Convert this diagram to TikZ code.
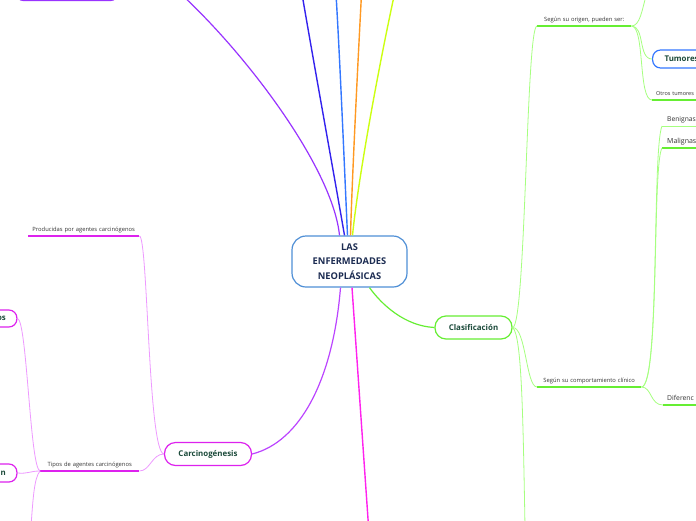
\documentclass[tikz,border=0pt]{standalone}
\usepackage{fontspec}
\setmainfont{Open Sans}
\definecolor{cblue}{HTML}{4F8FD6}
\definecolor{cnavy}{HTML}{1C2C52}
\definecolor{ttext}{HTML}{1B4A3A}
\definecolor{gmain}{HTML}{66EE33}
\definecolor{glight}{HTML}{A6FF80}
\definecolor{vmain}{HTML}{BB44FF}
\definecolor{cpurple}{HTML}{9933FF}
\definecolor{cdblue}{HTML}{3322EE}
\definecolor{cmblue}{HTML}{3377FF}
\definecolor{corange}{HTML}{FF9922}
\definecolor{cyellow}{HTML}{CCFF11}
\definecolor{cmag}{HTML}{FF22EE}
\definecolor{mbox}{HTML}{DD22EE}
\definecolor{plight}{HTML}{EE99FF}
\definecolor{subtxt}{HTML}{333333}
\tikzset{
  topic/.style={draw, fill=white, rounded corners=#1, line width=1.2pt, text=ttext,
     font=\fontsize{7.9}{9}\selectfont\bfseries, inner sep=0pt},
  subtopic/.style={inner xsep=4pt, inner ysep=2.6pt, text depth=1.5pt, text=subtxt,
     font=\fontsize{5.8}{7}\selectfont, anchor=south west},
  under/.style={append after command={(\tikzlastnode.south west) edge[#1] (\tikzlastnode.south east)}},
  gthick/.style={draw=gmain, line width=1.4pt},
  gthin/.style={draw=glight, line width=0.9pt},
  pthick/.style={draw=mbox, line width=1.4pt},
  gconn/.style={draw=glight, line width=0.8pt},
  pconn/.style={draw=plight, line width=0.8pt},
}
\begin{document}
\begin{tikzpicture}[x=1pt,y=-1pt]
\useasboundingbox (0,0) rectangle (696,520);
\clip (0,0) rectangle (696,520);
\fill[white] (0,0) rectangle (696,520);

% central topic
\node[draw=cblue, fill=white, line width=1.2pt, rounded corners=14pt, text=cnavy,
      minimum width=115pt, minimum height=51pt, align=center, inner sep=0pt,
      font=\fontsize{9.3}{14.2}\selectfont\bfseries] (c) at (349.5,261.5)
      {LAS\\ENFERMEDADES\\NEOPLÁSICAS};

% off-canvas ends of main branches
\coordinate (tpurple) at (181,-6);
\coordinate (tdblue) at (302,-6);
\coordinate (tmblue) at (336,-6);
\coordinate (torange) at (361.5,-6);
\coordinate (tyellow) at (394.5,-6);
\coordinate (bmag) at (368.5,526);

% top-left purple topic (only bottom edge visible)
\node[draw=cpurple, line width=1.4pt, rounded corners=6pt, minimum width=100pt,
      minimum height=20pt, anchor=south] (tl) at (67,1) {};

\draw[cpurple, line width=1.2pt] ([xshift=-10pt]c.north) .. controls (333,170) and (250,58) .. (tpurple);
\draw[cdblue, line width=1.4pt] ([xshift=-5pt]c.north) .. controls (335,180) and (315,70) .. (tdblue);
\draw[cmblue, line width=1.4pt] ([xshift=-2pt]c.north) .. controls (345,180) and (340,60) .. (tmblue);
\draw[corange, line width=1.4pt] ([xshift=1pt]c.north) .. controls (352,180) and (358,60) .. (torange);
\draw[cyellow, line width=1.4pt] ([xshift=3pt]c.north) .. controls (358,180) and (378,70) .. (tyellow);
\draw[cmag, line width=1.4pt] ([xshift=2.5pt]c.south) -- (bmag);

% Clasificación
\node[topic=11pt, draw=gmain, minimum width=77pt, minimum height=23pt] (clas) at (473.5,327.5) {Clasificación};
\draw[gmain, line width=1.2pt] ([xshift=20pt]c.south) .. controls (382,305) and (405,326) .. (clas.west);

\node[subtopic, text width=86pt, align=center, under=gthick] (origen) at (537,26) {Según su origen, pueden ser:};
\node[subtopic, text width=96pt, align=center, under=gthick] (comp) at (537,387) {Según su comportamiento clínico};
\coordinate (cbot) at (525,526);

\draw[gconn] (clas.east) .. controls (526,327) and (526,26) .. (origen.south west);
\draw[gconn] (clas.east) .. controls (526,327) and (526,387) .. (comp.south west);
\draw[gconn] (clas.east) .. controls (522,335) and (523,420) .. (cbot);

% children of "Según su origen"
\coordinate (otop) at (646,-4);
\node[topic=8pt, draw=cmblue, minimum height=18pt, text width=70pt, align=left,
      inner xsep=12pt, anchor=west] (tum) at (652,59) {Tumores};
\node[subtopic, text width=90pt, inner xsep=4pt, align=left, under=gthick,
      font=\fontsize{5.5}{7}\selectfont] (otros) at (652,100) {Otros tumores s};
\draw[gconn] (origen.south east) .. controls (640,26) and (642,10) .. (otop);
\draw[gconn] (origen.south east) .. controls (645,26) and (638,59) .. (tum.west);
\draw[gconn] (origen.south east) .. controls (645,26) and (638,100) .. (otros.south west);

% children of "Según su comportamiento clínico"
\node[subtopic, text width=60pt, inner xsep=5pt, align=left, under=gthin,
      font=\fontsize{6.7}{8}\selectfont] (ben) at (662,126) {Benignas};
\node[subtopic, text width=60pt, inner xsep=5pt, align=left, under=gthick,
      font=\fontsize{7}{8}\selectfont] (mal) at (662,148) {Malignas};
\node[subtopic, text width=60pt, inner xsep=4pt, align=left, under=gthick,
      font=\fontsize{6.8}{8}\selectfont] (dif) at (663,405) {Diferenc};
\draw[gconn] (comp.south east) .. controls (660,387) and (652,150) .. (ben.south west);
\draw[gconn] (comp.south east) .. controls (660,387) and (652,165) .. (mal.south west);
\draw[gconn] (comp.south east) .. controls (652,387) and (650,405) .. (dif.south west);

% Carcinogénesis
\node[topic=11pt, draw=mbox, minimum width=87pt, minimum height=23pt] (carc) at (208,454) {Carcinogénesis};
\draw[vmain, line width=1.2pt] ([xshift=-9pt]c.south) .. controls (333,380) and (300,442) .. (carc.east);

\node[subtopic, text width=103pt, align=center, under=pthick] (prod) at (28,236) {Producidas por agentes carcinógenos};
\node[subtopic, text width=91pt, align=center, under=pthick] (tipos) at (40,471) {Tipos de agentes carcinógenos};
\draw[pconn] (carc.west) .. controls (148,452) and (148,236) .. (prod.south east);
\draw[pconn] (carc.west) .. controls (152,454) and (150,471) .. (tipos.south east);

% children of "Tipos de agentes carcinógenos"
\node[topic=8pt, draw=mbox, minimum height=17pt, inner xsep=11pt, anchor=east] (os) at (17.5,318.5) {os};
\node[topic=8pt, draw=mbox, minimum height=18pt, inner xsep=11pt, anchor=east] (on) at (17.5,473) {n};
\coordinate (lbot) at (31,526);
\draw[pconn] (tipos.south west) .. controls (30,468) and (27,320) .. (os.east);
\draw[pconn] (tipos.south west) .. controls (30,471) and (28,474) .. (on.east);
\draw[pconn] (tipos.south west) .. controls (34,478) and (33,500) .. (lbot);
\end{tikzpicture}
\end{document}
